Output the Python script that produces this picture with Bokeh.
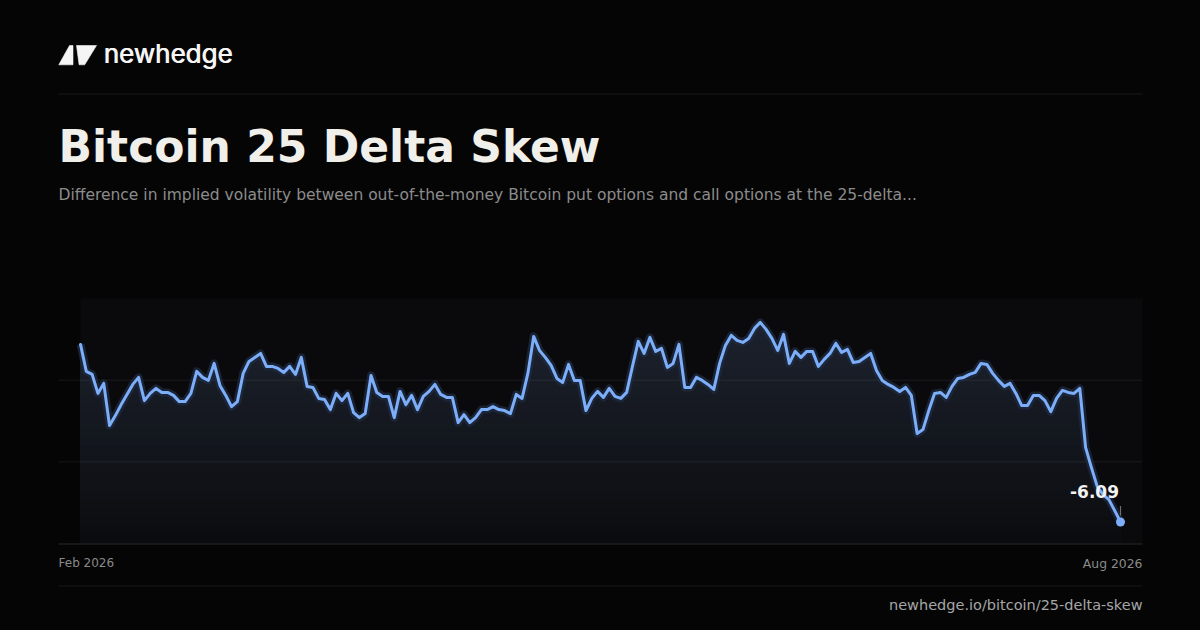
import numpy as np
import pandas as pd
from bokeh.plotting import figure
from bokeh.models import Range1d, ColumnDataSource
from bokeh.embed import file_html
from bokeh.resources import INLINE
from bokeh.core.properties import value

# ---------------- data ----------------
dates = pd.date_range("2026-02-01", periods=180, freq="D")
skew = [
    2.79, 1.44, 1.29, 0.34, 0.84, -1.27, -0.77, -0.22, 0.29, 0.79,
    1.14, -0.02, 0.34, 0.59, 0.39, 0.39, 0.24, -0.07, -0.07, 0.34,
    1.44, 1.14, 0.99, 1.84, 0.74, 0.24, -0.32, -0.07, 1.34, 1.94,
    2.14, 2.34, 1.69, 1.69, 1.59, 1.39, 1.69, 1.29, 2.14, 0.69,
    0.64, 0.09, 0.04, -0.47, 0.34, -0.02, 0.34, -0.62, -0.87, -0.67,
    1.24, 0.39, 0.19, 0.19, -0.87, 0.44, -0.22, 0.24, -0.47, 0.19,
    0.44, 0.79, 0.29, 0.14, 0.14, -1.12, -0.72, -1.12, -0.87, -0.47,
    -0.47, -0.32, -0.47, -0.52, -0.67, 0.29, 0.09, 1.34, 3.19, 2.49,
    2.14, 1.74, 1.09, 0.89, 1.79, 0.99, 0.99, -0.52, 0.09, 0.44,
    0.14, 0.59, 0.19, 0.09, 0.39, 1.69, 2.94, 2.34, 3.14, 2.44,
    2.59, 1.64, 1.84, 2.79, 0.64, 0.64, 1.14, 0.99, 0.79, 0.54,
    1.84, 2.74, 3.24, 2.99, 2.89, 3.09, 3.59, 3.89, 3.54, 3.09,
    2.49, 3.29, 1.84, 2.44, 2.14, 2.44, 2.44, 1.69, 2.04, 2.34,
    2.84, 2.39, 2.54, 1.89, 1.94, 2.14, 2.34, 1.49, 0.99, 0.79,
    0.64, 0.44, 0.64, 0.24, -1.67, -1.47, -0.52, 0.34, 0.39, 0.14,
    0.69, 1.09, 1.14, 1.29, 1.39, 1.84, 1.79, 1.34, 0.99, 0.69,
    0.84, 0.34, -0.27, -0.27, 0.24, 0.24, -0.02, -0.57, 0.09, 0.49,
    0.39, 0.34, 0.59, -2.37, -3.37, -4.32, -4.72, -4.97, -5.52, -6.09,
]
x_tick_labels = ["Feb 2026", "Aug 2026"]
brand = "newhedge"
title = "Bitcoin 25 Delta Skew"
subtitle = ("Difference in implied volatility between out-of-the-money Bitcoin "
            "put options and call options at the 25-delta...")
source_url = "newhedge.io/bitcoin/25-delta-skew"

# ---------------- layout (page pixels) ----------------
W, H = 1200, 630

LEFT, RIGHT = 58, 1142
X_FIRST, X_LAST = 80, 1120
C_TOP, C_BOT = 298, 543
V_TOP, V_BOT = 5.085, -7.165  # value range shown in the chart area

BG = "#050505"
LINE = "#7daef9"
BASE_FIX = 0.39  # em shift so that text lands on the wanted baseline


def base(y, fs):
    return y - BASE_FIX * fs


t = dates.values.astype("datetime64[ms]").astype(np.int64).astype(float)
vals = np.array(skew, dtype=float)

mpp = (t[-1] - t[0]) / (X_LAST - X_FIRST)
vpp = (V_TOP - V_BOT) / (C_BOT - C_TOP)

p = figure(width=W, height=H, output_backend="svg", toolbar_location=None,
           x_range=Range1d(0, W), y_range=Range1d(H, 0),
           x_axis_location=None, y_axis_location=None,
           min_border=0, background_fill_color=BG, border_fill_color=BG)
p.min_border_left = p.min_border_right = p.min_border_top = p.min_border_bottom = 0
p.outline_line_color = None
p.grid.visible = False
p.extra_x_ranges = {"t": Range1d(t[0] - X_FIRST * mpp, t[-1] + (W - X_LAST) * mpp)}
p.extra_y_ranges = {"v": Range1d(V_BOT - (H - C_BOT) * vpp, V_TOP + C_TOP * vpp)}

try:
    from bokeh.models import GlobalInlineStyleSheet
    p.stylesheets = [GlobalInlineStyleSheet(css="html, body { background-color: #050505; }")]
except Exception:
    pass

# ---------------- header ----------------
p.patches(xs=[[58.3, 69.0, 72.5, 72.5],
              [76.0, 96.0, 84.2, 78.6]],
          ys=[[64.3, 45.0, 45.0, 64.3],
              [45.0, 45.0, 64.3, 64.3]],
          fill_color="#f5f5f5", line_color="#f5f5f5", line_width=0.6)
for dx in (0, 0.7):
    p.text(x=[103 + dx], y=[base(63, 26)], text=[brand], text_font=value("Inter"),
           text_font_size="26px", text_color="#f5f5f5",
           text_baseline="alphabetic", text_align="left")

p.segment(x0=[LEFT], x1=[RIGHT], y0=[93.5], y1=[93.5],
          line_color="#1b1b1b", line_width=1.2)

p.text(x=[LEFT], y=[base(163.5, 44)], text=[title], text_font=value("DejaVu Sans"),
       text_font_style="bold", text_font_size="44px", text_color="#f1efe9",
       text_baseline="alphabetic", text_align="left")
p.text(x=[LEFT], y=[base(201, 15.5)], text=[subtitle], text_font=value("DejaVu Sans"),
       text_font_size="15.5px", text_color="#8c8c8c",
       text_baseline="alphabetic", text_align="left")

# ---------------- chart ----------------
p.quad(left=[X_FIRST], right=[RIGHT], top=[C_TOP], bottom=[C_BOT],
       fill_color="#0a0a0c", line_color=None)

N = 28
c_bot = np.array([11, 12, 15], dtype=float)
c_top = np.array([30, 36, 49], dtype=float)
for k in reversed(range(N)):
    hi = V_BOT + (k + 1) * (V_TOP - V_BOT) / N
    f = (k + 0.5) / N
    r, g, b = (c_bot + (c_top - c_bot) * f).round().astype(int)
    p.varea(x=t, y1=V_BOT, y2=np.clip(vals, V_BOT, hi),
            fill_color="#%02x%02x%02x" % (r, g, b),
            x_range_name="t", y_range_name="v")

for k in (1, 2):
    gy = C_TOP + (C_BOT - C_TOP) * k / 3
    p.segment(x0=[LEFT], x1=[RIGHT], y0=[gy], y1=[gy],
              line_color="#ffffff", line_alpha=0.075, line_width=1)
p.segment(x0=[LEFT], x1=[RIGHT], y0=[C_BOT + 0.5], y1=[C_BOT + 0.5],
          line_color="#1e1e1e", line_width=1.5)

src = ColumnDataSource(dict(t=t, v=vals))
p.line("t", "v", source=src, line_color="#1f2c44", line_width=8, line_alpha=0.7,
       line_join="round", x_range_name="t", y_range_name="v")
p.line("t", "v", source=src, line_color=LINE, line_width=3,
       line_join="round", line_cap="round", x_range_name="t", y_range_name="v")

p.segment(x0=[X_LAST], x1=[X_LAST], y0=[505.5], y1=[515],
          line_color="#6e6e6e", line_width=1.2)
p.scatter(x=t[-1:], y=vals[-1:], size=9, fill_color=LINE, line_color=None,
          x_range_name="t", y_range_name="v")
p.text(x=t[-1:], y=vals[-1:], text=["%.2f" % vals[-1]], x_offset=-1.5,
       y_offset=-23.5 - BASE_FIX * 17,
       text_font=value("DejaVu Sans"), text_font_style="bold", text_font_size="17px",
       text_color="#f2f2f2", text_align="right", text_baseline="alphabetic",
       x_range_name="t", y_range_name="v")

# ---------------- x labels and footer ----------------
p.text(x=[LEFT], y=[base(567.5, 12)], text=[x_tick_labels[0]], text_font=value("DejaVu Sans"),
       text_font_size="12px", text_color="#8a8a8a", text_align="left",
       text_baseline="alphabetic")
p.text(x=[RIGHT], y=[base(567.5, 12)], text=[x_tick_labels[1]], text_font=value("DejaVu Sans"),
       text_font_size="12.4px", text_color="#8a8a8a", text_align="right",
       text_baseline="alphabetic")
p.segment(x0=[LEFT], x1=[RIGHT], y0=[585.5], y1=[585.5],
          line_color="#181818", line_width=1.2)
p.text(x=[RIGHT], y=[base(610.5, 14.5)], text=[source_url], text_font=value("DejaVu Sans"),
       text_font_size="14.5px", text_color="#a6a6a6", text_align="right",
       text_baseline="alphabetic")

open("out.html", "w").write(file_html(p, INLINE, title=title))
